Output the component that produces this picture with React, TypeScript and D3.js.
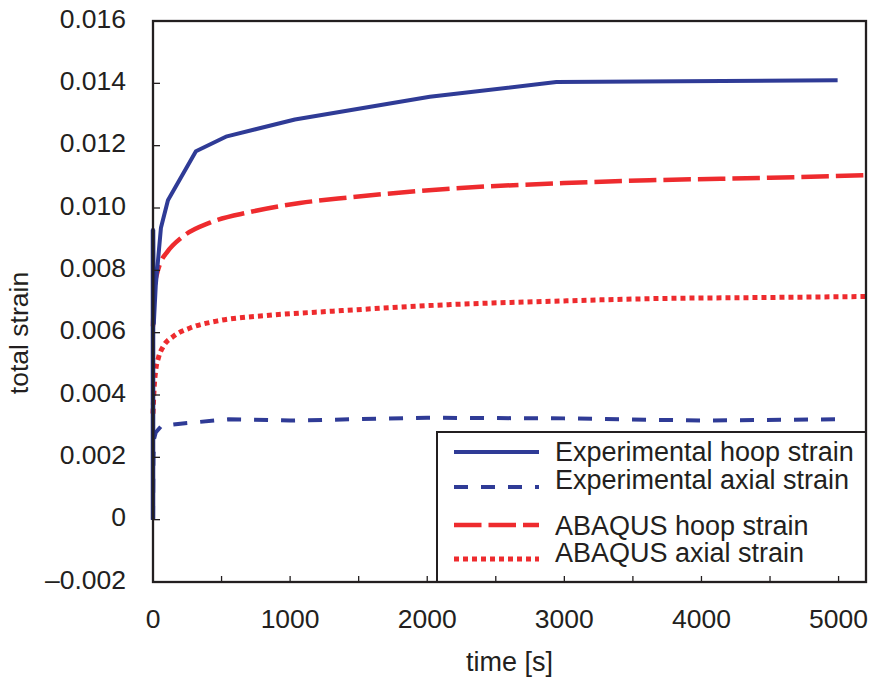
import React from "react";
import * as d3 from "d3";

// ---- data ----
const loadTime = [0, 0];
const loadStrain = [0, 0.0093];

const expHoopTime = [0, 0, 6, 20, 58, 109, 313, 539, 1035, 2019, 2942, 4993];
const expHoopStrain = [0, 0.0093, 0.0063, 0.0075, 0.00937, 0.01025, 0.01182, 0.0123, 0.01284, 0.01357, 0.01404, 0.0141];

const expAxialTime = [0, 3, 8, 20, 60, 200, 550, 1000, 2000, 3000, 4000, 5000];
const expAxialStrain = [0, 0.002, 0.0026, 0.0028, 0.003, 0.00308, 0.00322, 0.00318, 0.00327, 0.00325, 0.00318, 0.00322];

const abqHoopTime = [0, 5, 15, 30, 60, 100, 220, 415, 707, 1071, 1436, 2165, 3000, 3622, 4500, 5200];
const abqHoopStrain = [0.0062, 0.007, 0.0076, 0.0079, 0.0083, 0.00857, 0.00909, 0.00953, 0.00987, 0.01016, 0.01034, 0.01062, 0.0108, 0.01089, 0.01097, 0.01105];

const abqAxialTime = [0, 8, 20, 40, 75, 148, 270, 464, 829, 1312, 2165, 3000, 3622, 4500, 5200];
const abqAxialStrain = [0.0034, 0.0042, 0.0048, 0.0052, 0.00556, 0.00588, 0.00615, 0.00637, 0.00655, 0.00669, 0.0069, 0.00702, 0.00709, 0.00713, 0.00716];

const xTickLabels = [0, 1000, 2000, 3000, 4000, 5000];
const xMinorTicks = [500, 1000, 1500, 2000, 2500, 3000, 3500, 4000, 4500, 5000];
const yTicks = [-0.002, 0, 0.002, 0.004, 0.006, 0.008, 0.01, 0.012, 0.014, 0.016];
const yTickLabels = ["\u20130.002", "0", "0.002", "0.004", "0.006", "0.008", "0.010", "0.012", "0.014", "0.016"];

const legendLabels = [
  "Experimental hoop strain",
  "Experimental axial strain",
  "ABAQUS hoop strain",
  "ABAQUS axial strain",
];

const W = 877;
const H = 685;
const M = { left: 153, top: 21, right: 11, bottom: 103 };
const NAVY = "#2f3b96";
const RED = "#ee2b2e";
const INK = "#231f20";
const FONT = "'Liberation Sans', Arial, Helvetica, sans-serif";

export default function App() {
  const x = d3.scaleLinear().domain([0, 5200]).range([M.left, W - M.right]);
  const y = d3.scaleLinear().domain([-0.002, 0.016]).range([H - M.bottom, M.top]);

  const zip = (t: number[], s: number[]) => t.map((v, i) => [v, s[i]] as [number, number]);
  const lin = d3.line<[number, number]>().x((d) => x(d[0])).y((d) => y(d[1]));
  const smooth = d3
    .line<[number, number]>()
    .x((d) => x(d[0]))
    .y((d) => y(d[1]))
    .curve(d3.curveMonotoneX);

  const x0 = M.left;
  const x1 = W - M.right;
  const y0 = M.top;
  const y1 = H - M.bottom;

  const legX = 437;
  const legY = 432;
  const legendRows = [
    { ly: 452, ty: 461, stroke: NAVY, dash: undefined, w: 4 },
    { ly: 487, ty: 489, stroke: NAVY, dash: "14 13", w: 4 },
    { ly: 525, ty: 535, stroke: RED, dash: "27.5 7", w: 4.5 },
    { ly: 559, ty: 562, stroke: RED, dash: "5 4", w: 5 },
  ];

  return (
    <svg
      width={W}
      height={H}
      style={{ position: "absolute", left: 0, top: 0, background: "#fff" }}
      fontFamily={FONT}
    >
      <rect x={0} y={0} width={W} height={H} fill="#fff" />
      {/* data lines */}
      <path d={smooth(zip(abqAxialTime, abqAxialStrain)) || ""} fill="none" stroke={RED} strokeWidth={5} strokeDasharray="5 4" />
      <path d={smooth(zip(abqHoopTime, abqHoopStrain)) || ""} fill="none" stroke={RED} strokeWidth={4.5} strokeDasharray="27.5 7" />
      <path d={lin(zip(expAxialTime, expAxialStrain)) || ""} fill="none" stroke={NAVY} strokeWidth={4} strokeDasharray="14 13" />
      <path d={lin(zip(expHoopTime, expHoopStrain)) || ""} fill="none" stroke={NAVY} strokeWidth={4} strokeLinejoin="round" />
      <path d={lin(zip(loadTime, loadStrain)) || ""} fill="none" stroke="#202a6a" strokeWidth={4.5} />

      {/* legend */}
      <rect x={legX} y={legY} width={x1 - legX} height={y1 - legY} fill="#fff" stroke={INK} strokeWidth={2} />
      {legendRows.map((r, i) => (
        <g key={i}>
          <line x1={454} x2={539} y1={r.ly} y2={r.ly} stroke={r.stroke} strokeWidth={r.w} strokeDasharray={r.dash} />
          <text x={555} y={r.ty} fontSize={27} fill={INK}>
            {legendLabels[i]}
          </text>
        </g>
      ))}

      {/* frame */}
      <rect x={x0} y={y0} width={x1 - x0} height={y1 - y0} fill="none" stroke={INK} strokeWidth={2.3} />

      {/* y ticks */}
      {yTicks.map((v, i) => (
        <g key={"y" + i}>
          <line x1={x0} x2={x0 + 7} y1={y(v)} y2={y(v)} stroke={INK} strokeWidth={1.3} />
          <text x={126} y={y(v) + 6.5} textAnchor="end" fontSize={26.5} fill={INK}>
            {yTickLabels[i]}
          </text>
        </g>
      ))}

      {/* x ticks */}
      {xMinorTicks.map((v) => (
        <line key={"xm" + v} x1={x(v)} x2={x(v)} y1={y1} y2={y1 - 6} stroke={INK} strokeWidth={1.3} />
      ))}
      {xTickLabels.map((v) => (
        <text key={"xl" + v} x={x(v)} y={628} textAnchor="middle" fontSize={26.5} fill={INK}>
          {v}
        </text>
      ))}

      {/* axis titles */}
      <text x={(x0 + x1) / 2} y={671} textAnchor="middle" fontSize={27} fill={INK}>
        time [s]
      </text>
      <text
        transform={`translate(28, 333) rotate(-90)`}
        textAnchor="middle"
        fontSize={26.5}
        fill={INK}
      >
        total strain
      </text>
    </svg>
  );
}
